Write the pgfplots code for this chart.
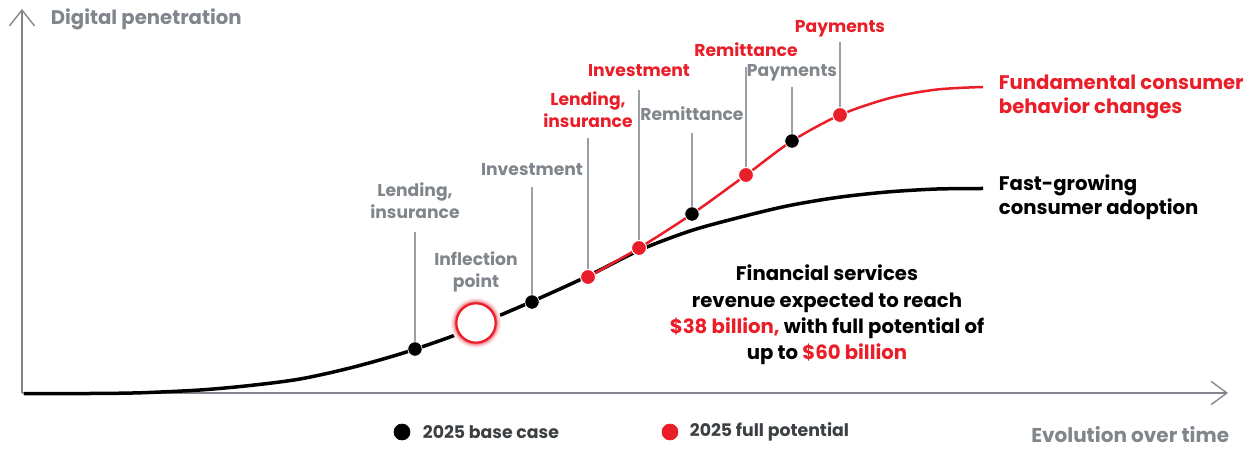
\documentclass[border=0pt]{standalone}
\usepackage{pgfplots}
\pgfplotsset{compat=1.18}
\usetikzlibrary{arrows.meta}
\usepackage{fontspec}
\setmainfont{Poppins}
\definecolor{gred}{RGB}{234,30,40}
\definecolor{ggray}{RGB}{128,134,139}
\definecolor{lgray}{RGB}{154,160,166}
\definecolor{dgray}{RGB}{60,64,67}
\definecolor{gblack}{RGB}{0,0,0}
\definecolor{glowA}{RGB}{253,240,241}
\definecolor{glowB}{RGB}{250,214,216}
\definecolor{glowC}{RGB}{246,175,178}
\definecolor{glowD}{RGB}{240,120,126}
\begin{document}
\begin{tikzpicture}
\begin{axis}[width=750pt, height=268.8pt, scale only axis,
  xmin=0, xmax=1250, ymin=0, ymax=448, y dir=reverse,
  axis lines=none, clip=false]
\path (axis cs:0,0) rectangle (axis cs:1250,448);
% axes
\draw[ggray, line width=1.2pt, -{Straight Barb[length=9.5pt,width=14pt,line width=0.8pt]}] (axis cs:22,393) -- (axis cs:1228,393);
\draw[ggray, line width=1.2pt, -{Straight Barb[length=9.5pt,width=15pt,line width=0.8pt]}] (axis cs:22,393) -- (axis cs:22,9);
% leader lines
\draw[lgray, line width=0.7pt] (axis cs:415,232) -- (axis cs:415,349);
\draw[lgray, line width=0.7pt] (axis cs:532,187) -- (axis cs:532,303);
\draw[lgray, line width=0.7pt] (axis cs:588,138) -- (axis cs:588,277);
\draw[lgray, line width=0.7pt] (axis cs:639,90) -- (axis cs:639,248);
\draw[lgray, line width=0.7pt] (axis cs:692,133) -- (axis cs:692,214);
\draw[lgray, line width=0.7pt] (axis cs:746,67) -- (axis cs:746,175);
\draw[lgray, line width=0.7pt] (axis cs:792,87) -- (axis cs:792,141);
\draw[lgray, line width=0.7pt] (axis cs:840,42) -- (axis cs:840,115);
% black curve
\addplot[gblack, line width=2.1pt, smooth] coordinates {
(24,393.5) (90,393.5) (140,392.8) (200,390) (250,385.5) (300,379) (350,368) (400,354) (450,337) (476,325.5) (532,301.5) (588,276) (640,250) (690,231) (737,218) (787,206) (837,197.5) (887,192) (937,189) (983,188.5)};
% red curve
\addplot[gred, line width=1.5pt, smooth] coordinates {
(588,277) (639,248) (692,214) (746,175) (792,141) (840,115) (890,98) (937,89.5) (983,87)};
% inflection glow and circle
\addplot[only marks, color=glowA, mark=*, mark size=15pt] coordinates {(476,323)};
\addplot[only marks, color=glowB, mark=*, mark size=14.2pt] coordinates {(476,323)};
\addplot[only marks, color=glowC, mark=*, mark size=13.4pt] coordinates {(476,323)};
\addplot[only marks, color=glowD, mark=*, mark size=12.7pt] coordinates {(476,323)};
\addplot[only marks, mark=*, mark size=11.8pt, mark options={fill=white, draw=gred, line width=1.3pt}] coordinates {(476,323)};
% base case dots
\addplot[only marks, mark=*, mark size=4.3pt, mark options={fill=gblack, draw=white, line width=0.4pt}] coordinates {(415,349) (532,302) (692,214) (792,141)};
% full potential dots
\addplot[only marks, mark=*, mark size=4.5pt, mark options={fill=gred, draw=white, line width=0.6pt}] coordinates {(588,277) (639,248) (746,175) (840,115)};
% legend dots
\addplot[only marks, color=gblack, mark=*, mark size=4.8pt] coordinates {(402,432)};
\addplot[only marks, color=gred, mark=*, mark size=4.8pt] coordinates {(670,432)};
% texts
\node[anchor=west, text=ggray, font=\fontsize{11.8}{13}\selectfont\bfseries] at (axis cs:45,19) {Digital penetration};
\node[anchor=east, text=ggray, font=\fontsize{12}{13}\selectfont\bfseries] at (axis cs:1235,435) {Evolution over time};
\node[anchor=west, text=dgray, font=\fontsize{10.4}{12}\selectfont\bfseries] at (axis cs:417,432) {2025 base case};
\node[anchor=west, text=dgray, font=\fontsize{10.4}{12}\selectfont\bfseries] at (axis cs:684,432) {2025 full potential};
\node[align=center, text=ggray, font=\fontsize{10.3}{13}\selectfont\bfseries] at (axis cs:415,201) {Lending,\\insurance};
\node[align=center, text=ggray, font=\fontsize{10.3}{13}\selectfont\bfseries] at (axis cs:476,272) {Inflection\\point};
\node[align=center, text=ggray, font=\fontsize{10.3}{13}\selectfont\bfseries] at (axis cs:532,170) {Investment};
\node[align=center, text=ggray, font=\fontsize{10.3}{13}\selectfont\bfseries] at (axis cs:692,114) {Remittance};
\node[align=center, text=ggray, font=\fontsize{10.3}{13}\selectfont\bfseries] at (axis cs:792,73) {Payments};
\node[align=center, text=gred, font=\fontsize{10.3}{13}\selectfont\bfseries] at (axis cs:588,110) {Lending,\\insurance};
\node[align=center, text=gred, font=\fontsize{10.3}{13}\selectfont\bfseries] at (axis cs:639,71) {Investment};
\node[align=center, text=gred, font=\fontsize{10.3}{13}\selectfont\bfseries] at (axis cs:746,50) {Remittance};
\node[align=center, text=gred, font=\fontsize{10.3}{13}\selectfont\bfseries] at (axis cs:840,29) {Payments};
\node[anchor=west, align=left, text=gred, font=\fontsize{11.8}{14.4}\selectfont\bfseries] at (axis cs:993,97) {Fundamental consumer\\behavior changes};
\node[anchor=west, align=left, text=gblack, font=\fontsize{11.8}{14.4}\selectfont\bfseries] at (axis cs:993,197) {Fast-growing\\consumer adoption};
\node[align=center, text=gblack, font=\fontsize{11.8}{15.8}\selectfont\bfseries] at (axis cs:827,315) {Financial services\\revenue expected to reach\\\textcolor{gred}{\$38 billion,} with full potential of\\up to \textcolor{gred}{\$60 billion}};
\end{axis}
\end{tikzpicture}
\end{document}
